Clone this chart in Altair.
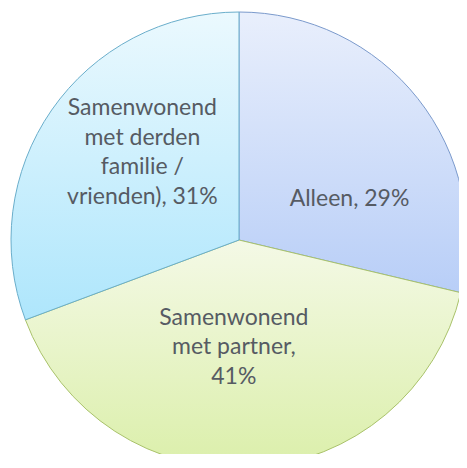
import altair as alt
import pandas as pd

categories = ["Alleen", "Samenwonend met partner", "Samenwonend met derden familie / vrienden)"]
values = [29, 41, 31]
label_lines = [
    ["Alleen, 29%"],
    ["Samenwonend", "met partner,", "41%"],
    ["Samenwonend", "met derden", "familie /", "vrienden), 31%"],
]

df = pd.DataFrame({"cat": categories, "value": values, "order": [0, 1, 2],
                   "label": label_lines})

def grad(top, bottom):
    return {"gradient": "linear", "x1": 0, "y1": 0, "x2": 0, "y2": 1,
            "stops": [{"offset": 0, "color": top}, {"offset": 1, "color": bottom}]}

fills = [grad("#e9effc", "#b8cef7"), grad("#f4f9e6", "#dbefaa"), grad("#ebf9fe", "#aee6fc")]
strokes = ["#7b9acc", "#a9c26a", "#6aaecb"]
label_offsets = [(14, 35), (-12, -32), (11, -57)]
label_radius = [123, 110, 131]

CX, CY, R = 231, 232, 228

base = alt.Chart(df).transform_window(
    cum="sum(value)", sort=[alt.SortField("order")], frame=[None, 0]
).transform_joinaggregate(total="sum(value)").transform_calculate(
    start="(datum.cum - datum.value) / datum.total * 2 * PI",
    end="datum.cum / datum.total * 2 * PI",
    mid="(datum.cum - datum.value / 2) / datum.total * 2 * PI",
)

layers = []
for i, c in enumerate(categories):
    layers.append(
        base.transform_filter(alt.datum.cat == c).mark_arc(
            fill=fills[i], stroke=strokes[i], strokeWidth=1
        ).encode(
            theta=alt.Theta("start:Q", scale=None),
            theta2="end:Q",
            radius=alt.value(R),
            x=alt.value(CX),
            y=alt.value(CY),
        )
    )
for i, c in enumerate(categories):
    dx, dy = label_offsets[i]
    layers.append(
        base.transform_filter(alt.datum.cat == c).mark_text(
            font="Lato", fontSize=23, color="#565b63", align="center",
            baseline="middle", lineHeight=29.5, dx=dx, dy=dy
        ).encode(
            theta=alt.Theta("mid:Q", scale=None),
            radius=alt.value(label_radius[i]),
            x=alt.value(CX),
            y=alt.value(CY),
            text="label",
        )
    )

chart = alt.layer(*layers).properties(
    width=451, height=446, padding=0, autosize="none"
).configure_view(stroke=None)

chart.save("out.html", embed_options={"renderer": "svg", "actions": False})
